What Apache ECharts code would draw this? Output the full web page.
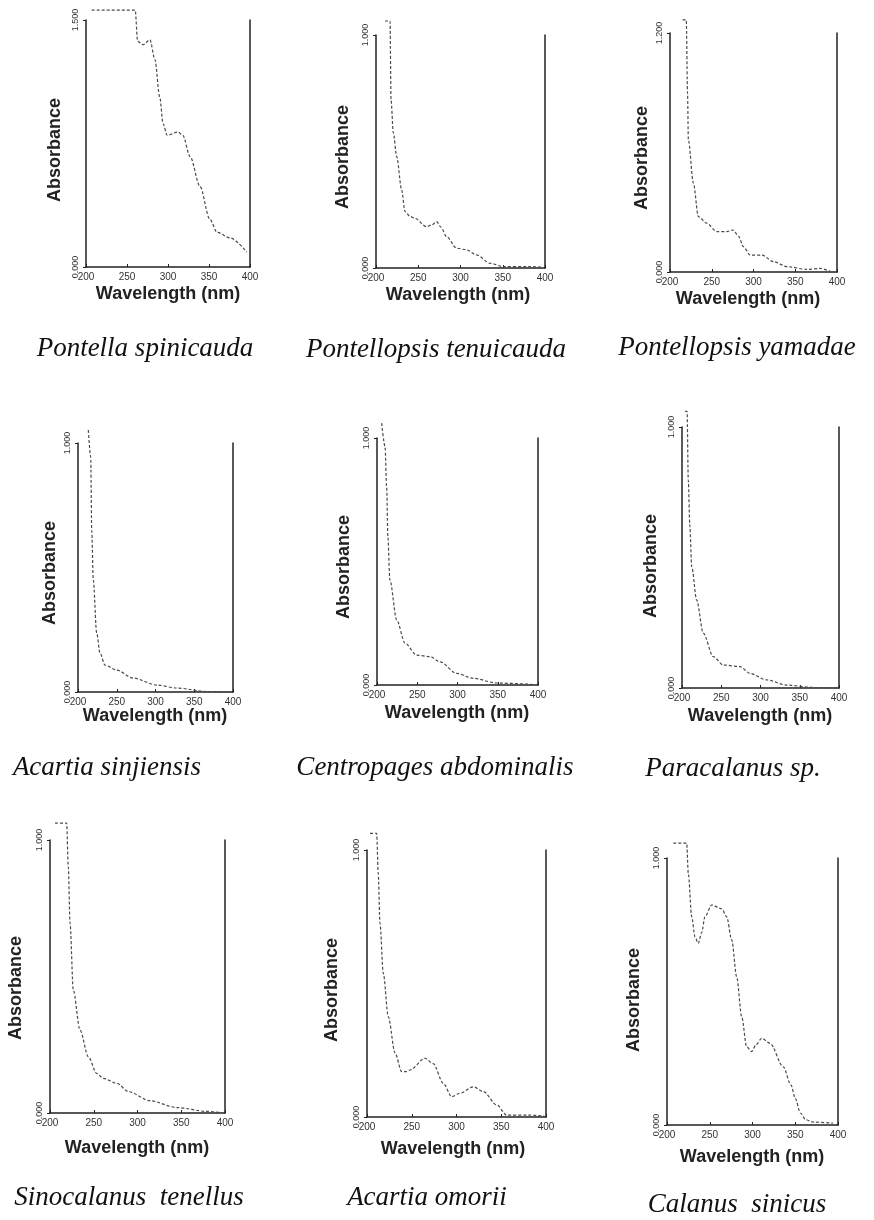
<!DOCTYPE html>
<html>
<head>
<meta charset="utf-8">
<title>Absorbance spectra of copepods</title>
<script src="https://cdn.jsdelivr.net/npm/echarts@6/dist/echarts.min.js"></script>
<style>
  html, body { margin: 0; padding: 0; background: #fff; }
  #chart { width: 874px; height: 1220px; }
</style>
</head>
<body>
<div id="chart"></div>
<script>
// wavelength ticks (nm)
const xTicks = [200, 250, 300, 350, 400];

// species names, in reading order
const species = [
  "Pontella spinicauda",
  "Pontellopsis tenuicauda",
  "Pontellopsis yamadae",
  "Acartia sinjiensis",
  "Centropages abdominalis",
  "Paracalanus sp.",
  "Sinocalanus  tenellus",
  "Acartia omorii",
  "Calanus  sinicus",
];

// top of the absorbance scale of each panel
const yMax = [1.5, 1.0, 1.2, 1.0, 1.0, 1.0, 1.0, 1.0, 1.0];

// spectra: [wavelength nm, absorbance]
const pontellaSpinicauda = [
  [207, 1.56], [260, 1.56], [263, 1.37], [269.5, 1.35], [278, 1.38], [284, 1.26],
  [290, 1.03], [294, 0.87], [299, 0.8], [312, 0.82], [318, 0.8], [327, 0.67],
  [339, 0.49], [351, 0.29], [360, 0.21], [376, 0.176], [396, 0.09],
];
const pontellopsisTenuicauda = [
  [210.6, 1.06], [216.6, 1.06], [217.8, 0.72], [220.5, 0.58], [224.5, 0.478],
  [230.4, 0.335], [234.3, 0.242], [240, 0.222], [246, 0.213], [260, 0.177],
  [266, 0.185], [271.8, 0.199], [277, 0.175], [283.6, 0.134], [295.5, 0.085],
  [307, 0.078], [319, 0.056], [335, 0.02], [350.6, 0.006], [382, 0.006], [395, 0.004],
];
const pontellopsisYamadae = [
  [215, 1.266], [219.5, 1.266], [221, 0.9], [222, 0.663], [228, 0.446], [234, 0.278],
  [244, 0.245], [256, 0.203], [268, 0.203], [275.6, 0.211], [282, 0.18], [288, 0.127],
  [296, 0.085], [310, 0.085], [324, 0.052], [340, 0.027], [364, 0.013], [380, 0.018], [392, 0.003],
];
const acartiaSinjiensis = [
  [213.3, 1.052], [216.4, 0.945], [217.7, 0.65], [219.7, 0.45], [224.1, 0.237],
  [228.4, 0.157], [234.8, 0.108], [249.9, 0.088], [271, 0.056], [301.5, 0.028],
  [327.4, 0.016], [366, 0.002], [397, 0.0],
];
const centropagesAbdominalis = [
  [205.8, 1.06], [210, 0.965], [212, 0.8], [213.5, 0.6], [216, 0.425], [224.5, 0.263],
  [234.8, 0.169], [249.3, 0.121], [265.8, 0.115], [278.3, 0.094], [299, 0.047],
  [319.6, 0.027], [348.7, 0.008], [394, 0.002],
];
const paracalanusSp = [
  [204, 1.06], [206.5, 1.06], [208, 0.797], [210, 0.62], [212.4, 0.465], [218.7, 0.337],
  [227.1, 0.21], [239.9, 0.12], [252.6, 0.088], [273.9, 0.082], [286.6, 0.056],
  [307.9, 0.031], [333.4, 0.011], [367, 0.002], [398, 0.0],
];
const sinocalanusTenellus = [
  [205.7, 1.062], [219, 1.062], [220.9, 0.902], [222.9, 0.696], [226.6, 0.45],
  [234.3, 0.304], [243.8, 0.206], [253.4, 0.145], [260.9, 0.127], [276.2, 0.109],
  [290, 0.078], [314, 0.045], [345, 0.02], [379, 0.006], [396, 0.001],
];
const acartiaOmorii = [
  [203.4, 1.062], [210.8, 1.062], [212.6, 0.91], [214.5, 0.725], [218.2, 0.538],
  [223.8, 0.376], [231.3, 0.24], [238.8, 0.17], [244, 0.17], [248, 0.176], [264.8, 0.22],
  [274, 0.2], [285.3, 0.126], [294.6, 0.076], [303.9, 0.089], [318.8, 0.113],
  [330, 0.095], [345, 0.045], [356, 0.007], [382, 0.007], [398, 0.003],
];
const calanusSinicus = [
  [207.4, 1.056], [223, 1.056], [224.9, 0.943], [228.9, 0.78], [232.7, 0.705],
  [236.6, 0.68], [240.5, 0.72], [244.4, 0.78], [252.3, 0.824], [264, 0.81],
  [269.8, 0.78], [275.7, 0.693], [281.5, 0.555], [287.4, 0.405], [293.2, 0.293],
  [299, 0.275], [304, 0.3], [310.8, 0.325], [320.5, 0.306], [336, 0.218], [345, 0.15],
  [350, 0.1], [356, 0.045], [362, 0.02], [371, 0.011], [394, 0.007],
];
const spectra = [
  pontellaSpinicauda, pontellopsisTenuicauda, pontellopsisYamadae,
  acartiaSinjiensis, centropagesAbdominalis, paracalanusSp,
  sinocalanusTenellus, acartiaOmorii, calanusSinicus,
];

// panel layout in px: plot box, y-title centre, x-title centre, species-name centre
const panels = [
  { box: [86, 20, 164, 247], yt: [55, 150], xt: [168, 294], nm: [145, 349] },
  { box: [376, 35, 169, 233], yt: [343, 157], xt: [458, 295], nm: [436, 350] },
  { box: [670, 33, 167, 239], yt: [642, 158], xt: [748, 299], nm: [737, 348] },
  { box: [78, 443, 155, 249], yt: [50, 573], xt: [155, 716], nm: [107, 768] },
  { box: [377, 438, 161, 247], yt: [344, 567], xt: [457, 713], nm: [435, 768] },
  { box: [682, 427, 157, 261], yt: [651, 566], xt: [760, 716], nm: [733, 769] },
  { box: [50, 840, 175, 273], yt: [16, 988], xt: [137, 1148], nm: [129, 1198] },
  { box: [367, 850, 179, 267], yt: [332, 990], xt: [453, 1149], nm: [427, 1198] },
  { box: [667, 858, 171, 267], yt: [634, 1000], xt: [752, 1157], nm: [737, 1205] },
];

const ink = "#222";
const sans = "'Liberation Sans', Arial, sans-serif";
const serif = "'Liberation Serif', 'Times New Roman', serif";

const grid = [], xAxis = [], yAxis = [], series = [], graphic = [];

panels.forEach((p, i) => {
  grid.push({ left: p.box[0], top: p.box[1], width: p.box[2], height: p.box[3] });

  xAxis.push({
    type: "value",
    gridIndex: i,
    min: xTicks[0],
    max: xTicks[xTicks.length - 1],
    interval: xTicks[1] - xTicks[0],
    axisLine: { show: true, lineStyle: { color: ink, width: 1.5 } },
    axisTick: { show: true, inside: true, length: 3, lineStyle: { color: ink } },
    axisLabel: { color: "#333", fontFamily: sans, fontSize: 10, margin: 5 },
    splitLine: { show: false },
  });

  // left absorbance axis, labelled only at 0 and the top value
  yAxis.push({
    type: "value",
    gridIndex: i,
    min: 0,
    max: yMax[i],
    interval: yMax[i],
    axisLine: { show: true, lineStyle: { color: ink, width: 1.5 } },
    axisTick: { show: true, length: 3, lineStyle: { color: ink } },
    axisLabel: {
      rotate: 90,
      color: "#333",
      fontFamily: sans,
      fontSize: 9,
      margin: 6,
      formatter: (v) => v.toFixed(3),
    },
    splitLine: { show: false },
  });
  // plain right-hand frame line
  yAxis.push({
    type: "value",
    gridIndex: i,
    position: "right",
    min: 0,
    max: yMax[i],
    axisLine: { show: true, lineStyle: { color: ink, width: 1.5 } },
    axisTick: { show: false },
    axisLabel: { show: false },
    splitLine: { show: false },
  });

  series.push({
    name: species[i].replace(/\s+/g, " "),
    type: "line",
    xAxisIndex: i,
    yAxisIndex: 2 * i,
    data: spectra[i],
    showSymbol: false,
    smooth: 0.3,
    smoothMonotone: "x",
    clip: false,
    lineStyle: { color: "#4a4a4a", width: 1.2, type: [3, 2] },
  });

  graphic.push({
    type: "text",
    x: p.yt[0],
    y: p.yt[1],
    rotation: Math.PI / 2,
    style: {
      text: "Absorbance",
      font: "bold 18px " + sans,
      fill: ink,
      align: "center",
      verticalAlign: "middle",
    },
  });
  graphic.push({
    type: "text",
    x: p.xt[0],
    y: p.xt[1],
    style: {
      text: "Wavelength (nm)",
      font: "bold 18px " + sans,
      fill: ink,
      align: "center",
      verticalAlign: "middle",
    },
  });
  graphic.push({
    type: "text",
    x: p.nm[0],
    y: p.nm[1],
    style: {
      text: species[i],
      font: "italic 27px " + serif,
      fill: "#111",
      align: "center",
      verticalAlign: "middle",
    },
  });
});

const chart = echarts.init(document.getElementById("chart"));
chart.setOption({
  backgroundColor: "#fff",
  animation: false,
  grid,
  xAxis,
  yAxis,
  series,
  graphic,
});
</script>
</body>
</html>
